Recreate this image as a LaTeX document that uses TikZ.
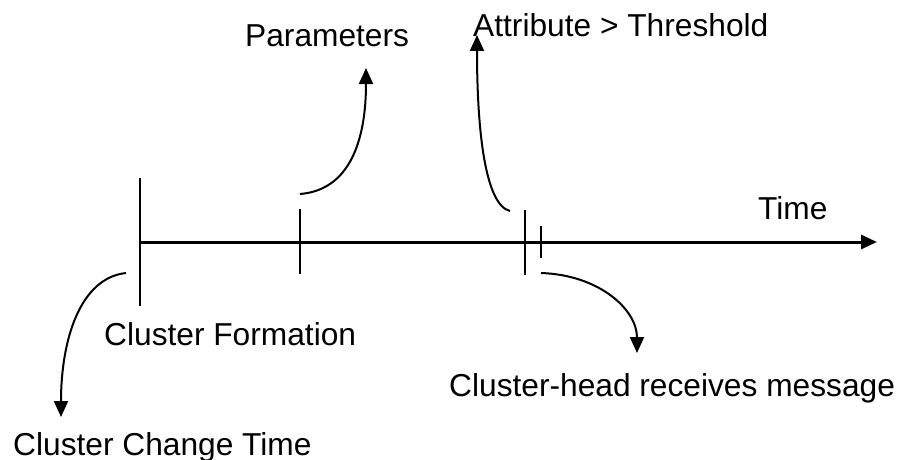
\documentclass[tikz,border=0pt]{standalone}
\usepackage{fontspec}
\setmainfont{Liberation Sans}
\usetikzlibrary{arrows.meta}
\begin{document}
\begin{tikzpicture}[x=1pt,y=-1pt,
  lbl/.style={anchor=base west,inner sep=0pt,font=\fontsize{31.7}{38}\selectfont},
  tickline/.style={line width=2pt},
  curvearrow/.style={line width=2pt,-{Triangle[length=16pt,width=14pt]}}]
\useasboundingbox (0,0) rectangle (902,460);
%\draw[gray!30] (0,0) grid[step=50] (902,460);
% time axis
\coordinate (t0) at (140,242);
\coordinate (tend) at (877,242);
\draw[line width=3pt,-{Triangle[length=16pt,width=14pt]}] (t0) -- (tend);
\node[lbl] (time) at (758,219) {Time};
% ticks
\draw[tickline] (140,178) -- (140,306);
\draw[tickline] (300,209) -- (300,274);
\draw[tickline] (525,210) -- (525,275);
\draw[tickline] (541,226) -- (541,258);
% labels
\node[lbl] (form) at (104,345) {Cluster Formation};
\node[lbl] (param) at (245,47) {Parameters};
\node[lbl] (attr) at (473,37) {Attribute > Threshold};
\node[lbl] (head) at (449,396) {Cluster-head receives message};
\node[lbl] (change) at (13,455) {Cluster Change Time};
% curved arrows
\coordinate (p0) at (300,194);
\coordinate (p1) at (366,68);
\draw[curvearrow] (p0) .. controls (350,190) and (366,140) .. (p1);
\coordinate (a0) at (510,211);
\coordinate (a1) at (477,35);
\draw[curvearrow] (a0) .. controls (485,205) and (477,130) .. (a1);
\coordinate (c0) at (126,273);
\coordinate (c1) at (61,417);
\draw[curvearrow] (c0) .. controls (80,278) and (61,340) .. (c1);
\coordinate (h0) at (541,273);
\coordinate (h1) at (637,353);
\draw[curvearrow] (h0) .. controls (600,275) and (637,310) .. (h1);
\end{tikzpicture}
\end{document}
